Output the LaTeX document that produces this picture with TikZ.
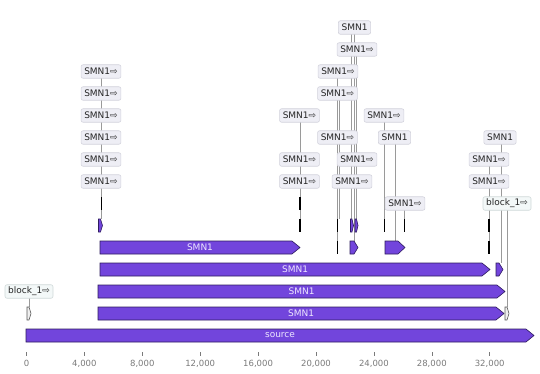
\documentclass[tikz,border=0pt]{standalone}
\usepackage{fontspec}
\setmainfont{DejaVu Sans}
\usetikzlibrary{backgrounds}
\definecolor{featpurple}{HTML}{7245DC}
\definecolor{featedge}{HTML}{2E1C5E}
\definecolor{bartext}{HTML}{EDE6FF}
\definecolor{lblfill}{HTML}{EEEEF5}
\definecolor{lbledge}{HTML}{D2D2DC}
\definecolor{blkfill}{HTML}{F3F8F8}
\definecolor{blkedge}{HTML}{CFD8D8}
\definecolor{connc}{HTML}{9A9A9A}
\definecolor{axisc}{HTML}{7A7A7A}
\tikzset{
  lbl/.style={draw=lbledge, fill=lblfill, rounded corners=2pt, line width=0.6pt, inner xsep=3.2pt, inner ysep=0pt, minimum height=13.5pt, font=\fontsize{9}{10}\selectfont, text=black!85},
  blklbl/.style={lbl, draw=blkedge, fill=blkfill},
  conn/.style={draw=connc, line width=0.6pt},
  featbar/.style={fill=featpurple, draw=featedge, line width=0.6pt},
  blkfeat/.style={fill=gray!12, draw=gray!70!black, line width=0.6pt},
  tinyfeat/.style={draw=black, line width=1.4pt},
  inbar/.style={font=\fontsize{9}{10}\selectfont, text=bartext},
  ticklbl/.style={font=\fontsize{8.5}{10}\selectfont, text=axisc},
  tickmark/.style={draw=axisc, line width=0.6pt},
}
% style, x start, x tip, y centre, head length
\newcommand\fArrow[5]{\draw[#1] (#2,{#4-6.5}) -- ({#3-#5},{#4-6.5}) -- (#3,#4) -- ({#3-#5},{#4+6.5}) -- (#2,{#4+6.5}) -- cycle;}
% x, y centre
\newcommand\fTiny[2]{\draw[tinyfeat] (#1,{#2-6.5}) -- (#1,{#2+6.5});}
\begin{document}
\begin{tikzpicture}[x=1pt,y=-1pt]
\useasboundingbox (0,0) rectangle (540,374);
% big features
\fArrow{featbar}{26}{534}{335.5}{8}
\node[inbar] (tsrc) at (280,335.5) {source};
\fArrow{featbar}{98}{504}{313.5}{8}
\node[inbar] (t1) at (301,313.5) {SMN1};
\fArrow{featbar}{98}{505}{291.5}{8}
\node[inbar] (t2) at (301.5,291.5) {SMN1};
\fArrow{featbar}{100}{490}{269.5}{8}
\node[inbar] (t3) at (295,269.5) {SMN1};
\fArrow{featbar}{100}{300}{247.5}{8}
\node[inbar] (t4) at (200,247.5) {SMN1};
% small features
\fArrow{blkfeat}{27}{31}{313.5}{2}
\fArrow{blkfeat}{505}{509}{313.5}{2}
\fArrow{featbar}{496}{503}{269.5}{4}
\fArrow{featbar}{350}{358}{247.5}{4}
\fArrow{featbar}{385}{405}{247.5}{7}
\fArrow{featbar}{98.5}{102.5}{225.5}{2}
\fArrow{featbar}{350.5}{353.5}{225.5}{1.5}
\fArrow{featbar}{355}{358}{225.5}{1.5}
\fTiny{101.5}{203.5}
\fTiny{300}{203.5}
\fTiny{300}{225.5}
\fTiny{337.5}{225.5}
\fTiny{337.5}{247.5}
\fTiny{384.5}{225.5}
\fTiny{404.5}{225.5}
\fTiny{489}{225.5}
\fTiny{489}{247.5}
% connector ends
\coordinate (fa) at (101.5,219);
\coordinate (fb) at (300,219);
\coordinate (fc1) at (337.5,241);
\coordinate (fc2) at (339,219);
\coordinate (fd1) at (351.5,219);
\coordinate (fd2) at (354,241);
\coordinate (fd3) at (356.5,219);
\coordinate (fe1) at (384.5,219);
\coordinate (fe2) at (395.5,241);
\coordinate (fe3) at (404.5,219);
\coordinate (ff1) at (501.5,263);
\coordinate (ff2) at (489,241);
\coordinate (fg1) at (507,307);
\coordinate (fg2) at (29,307);
% labels
\node[lbl] (a1) at (101,71.5) {SMN1⇨};
\node[lbl] (a2) at (101,93.5) {SMN1⇨};
\node[lbl] (a3) at (101,115.5) {SMN1⇨};
\node[lbl] (a4) at (101,137.5) {SMN1⇨};
\node[lbl] (a5) at (101,159.5) {SMN1⇨};
\node[lbl] (a6) at (101,181.5) {SMN1⇨};
\node[lbl] (b1) at (299.5,115.5) {SMN1⇨};
\node[lbl] (b2) at (299.5,159.5) {SMN1⇨};
\node[lbl] (b3) at (299.5,181.5) {SMN1⇨};
\node[lbl] (c1) at (338,71.5) {SMN1⇨};
\node[lbl] (c2) at (337.5,93.5) {SMN1⇨};
\node[lbl] (c3) at (337.5,137.5) {SMN1⇨};
\node[lbl] (d1) at (354.5,27.5) {SMN1};
\node[lbl] (d2) at (357,49.5) {SMN1⇨};
\node[lbl] (d3) at (357,159.5) {SMN1⇨};
\node[lbl] (d4) at (352,181.5) {SMN1⇨};
\node[lbl] (e1) at (384,115.5) {SMN1⇨};
\node[lbl] (e2) at (394.5,137.5) {SMN1};
\node[lbl] (e3) at (405,203.5) {SMN1⇨};
\node[lbl] (f1) at (500,137.5) {SMN1};
\node[lbl] (f2) at (489,159.5) {SMN1⇨};
\node[lbl] (f3) at (489,181.5) {SMN1⇨};
\node[blklbl] (g1) at (507,203.5) {block\_1⇨};
\node[blklbl] (g2) at (29,291.5) {block\_1⇨};
% connectors behind
\begin{scope}[on background layer]
\foreach \l in {a1,a2,a3,a4,a5,a6}{\draw[conn] (\l -| fa) -- (fa);}
\foreach \l in {b1,b2,b3}{\draw[conn] (\l -| fb) -- (fb);}
\draw[conn] (c1 -| fc1) -- (fc1);
\draw[conn] (c2 -| fc2) -- (fc2);
\draw[conn] (c3 -| fc1) -- (fc1);
\draw[conn] (d1 -| fd1) -- (fd1);
\draw[conn] (d1 -| fd2) -- (fd2);
\draw[conn] (d2 -| fd3) -- (fd3);
\draw[conn] (d3 -| fd3) -- (fd3);
\draw[conn] (d4 -| fd1) -- (fd1);
\draw[conn] (e1 -| fe1) -- (fe1);
\draw[conn] (e2 -| fe2) -- (fe2);
\draw[conn] (e3 -| fe3) -- (fe3);
\draw[conn] (f1 -| ff1) -- (ff1);
\draw[conn] (f2 -| ff2) -- (ff2);
\draw[conn] (f3 -| ff2) -- (ff2);
\draw[conn] (g1 -| fg1) -- (fg1);
\draw[conn] (g2 -| fg2) -- (fg2);
\end{scope}
% axis
\foreach \i/\t in {0/0,1/{4,000},2/{8,000},3/{12,000},4/{16,000},5/{20,000},6/{24,000},7/{28,000},8/{32,000}}{
  \coordinate (tk\i) at ({26.5+\i*57.9},352);
  \draw[tickmark] (tk\i) -- ++(0,3.5);
  \node[ticklbl] (tl\i) at ({26.5+\i*57.9},363.5) {\t};
}
\end{tikzpicture}
\end{document}
